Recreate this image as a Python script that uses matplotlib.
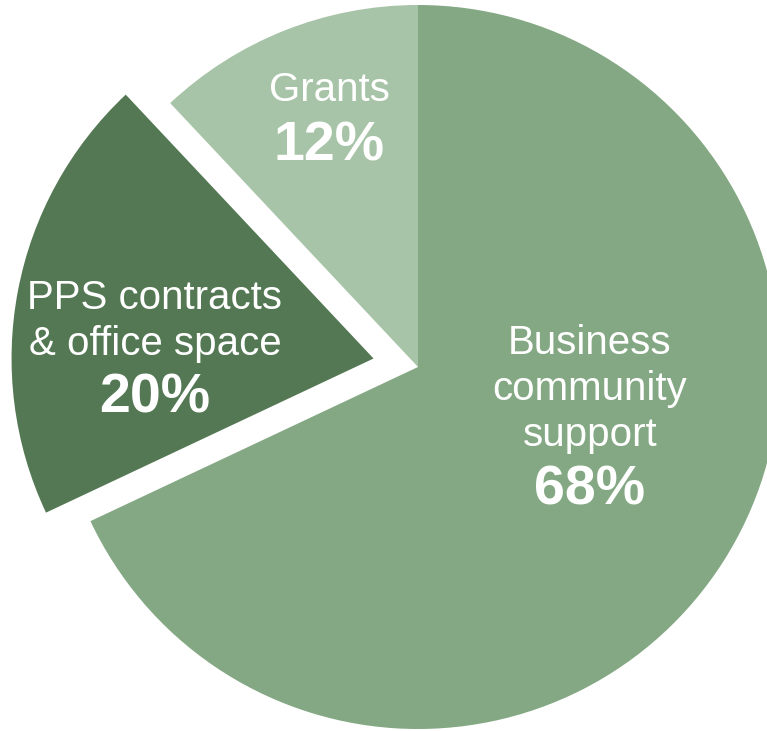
import matplotlib
matplotlib.use("Agg")
import matplotlib.pyplot as plt

# Data
names = ["Business\ncommunity\nsupport", "PPS contracts\n& office space", "Grants"]
shares = [68, 20, 12]
colors = ["#83a883", "#537853", "#a8c4a8"]
explode = [0, 0.125, 0]

# label anchors (data units, pie radius = 1): name block centre, percent centre
name_pos = [(0.475, -0.060), (-0.727, 0.127), (-0.246, 0.765)]
pct_y = [-0.340, -0.086, 0.608]

plt.rcParams['font.family'] = ['Liberation Sans', 'DejaVu Sans']

fig = plt.figure(figsize=(7.67, 7.31), dpi=100)
ax = fig.add_axes([0, 0, 1, 1])

ax.pie(shares, colors=colors, explode=explode, startangle=90,
       counterclock=False, radius=1, wedgeprops=dict(linewidth=0))

# pixels per data unit = 362, centre at (418, 367) px
ax.set_xlim(-418 / 362, (767 - 418) / 362)
ax.set_ylim(-(731 - 367) / 362, 367 / 362)
ax.set_aspect('auto')
ax.axis('off')

for i in range(len(names)):
    x, y = name_pos[i]
    ax.text(x, y, names[i], ha='center', va='center', color='white',
            fontsize=29, linespacing=1.27)
    ax.text(x, pct_y[i], str(shares[i]) + "%", ha='center', va='center',
            color='white', fontsize=40, fontweight='bold')

fig.savefig("out.png", dpi=100)
